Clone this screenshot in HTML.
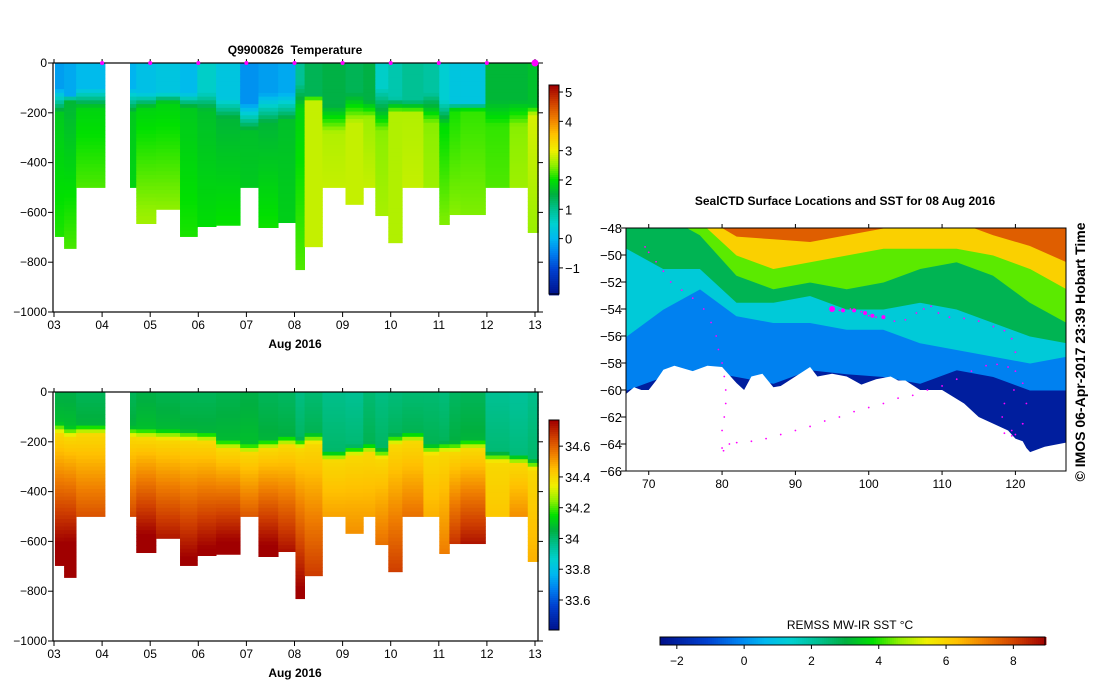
<!DOCTYPE html>
<html><head><meta charset="utf-8"><style>
html,body{margin:0;padding:0;background:#fff;}
svg{display:block;font-family:"Liberation Sans",sans-serif;}
</style></head><body>
<svg id="root" width="1099" height="700" viewBox="0 0 1099 700" xmlns="http://www.w3.org/2000/svg">
<g id="tempPanel"></g>
<g id="salPanel"></g>
<g id="mapPanel"></g>
<text x="295" y="54" text-anchor="middle" font-size="12" font-weight="bold">Q9900826&#160;&#160;Temperature</text>
<text x="845" y="205" text-anchor="middle" font-size="12" font-weight="bold">SealCTD Surface Locations and SST for 08 Aug 2016</text>
<text x="850" y="629" text-anchor="middle" font-size="12">REMSS MW-IR SST °C</text>
<text transform="translate(1085,352) rotate(-90)" text-anchor="middle" font-size="14" font-weight="bold">© IMOS 06-Apr-2017 23:39 Hobart Time</text>
</svg>
<script>
// ---- profile data (day of Aug 2016 at profile start) ----
const profDay = [3.02,3.21,3.46,4.58,4.71,5.12,5.62,5.98,6.37,6.87,7.25,7.66,8.02,8.21,8.58,9.06,9.43,9.68,9.95,10.24,10.68,11.01,11.22,11.45,11.97,12.47,12.85];
const profEnd = 13.07;
const profGapAfter = [2];
const gapEnd = 4.06;
const maxDepth = [697,745,500,500,645,588,697,657,652,500,661,641,830,738,500,568,500,613,722,500,500,649,609,609,500,500,681];
// temperature parameters
const tSurf = [-0.2,-0.1,0.1,0.0,0.2,0.3,0.1,0.6,0.3,-0.3,-0.2,-0.1,1.0,1.4,1.5,1.4,1.5,0.6,0.8,1.0,0.9,0.5,0.3,0.3,1.6,1.6,1.7];
const tZ1 = [100,130,100,100,120,120,120,120,140,160,120,120,80,130,170,120,150,100,140,150,120,150,160,160,150,150,170];
const tZ2 = [200,150,180,200,180,160,180,190,220,270,240,230,180,150,280,240,220,270,200,200,240,250,190,190,250,250,210];
const tMid = [1.8,1.6,1.9,1.8,1.9,1.9,1.8,1.7,1.6,1.7,1.6,1.7,1.9,2.8,2.7,2.8,2.6,2.5,2.7,2.7,2.5,2.0,2.1,2.2,2.2,2.5,2.9];
const t500 = [2.0,2.0,2.3,1.9,2.4,2.4,2.0,1.9,1.9,1.8,1.9,1.8,2.1,2.8,2.8,2.8,2.8,2.6,2.7,2.8,2.6,2.3,2.4,2.4,2.3,2.6,2.7];
// salinity parameters
const sSurf = [34.05,34.05,34.03,34.03,34.05,34.04,34.03,34.03,34.04,34.05,34.03,34.02,33.98,34.0,33.97,33.96,34.0,33.98,33.99,34.0,34.0,33.99,34.02,34.03,33.96,33.95,33.97];
const sHalo = [125,140,130,140,145,150,155,160,190,205,190,175,185,165,235,215,205,225,170,160,210,200,200,190,240,250,270];
const s500 = [34.68,34.68,34.63,34.65,34.7,34.66,34.64,34.66,34.67,34.62,34.66,34.63,34.58,34.55,34.5,34.5,34.5,34.52,34.55,34.58,34.48,34.5,34.6,34.64,34.44,34.53,34.44];
// axis ticks
const dayTicks = ["03","04","05","06","07","08","09","10","11","12","13"];
const depthTicks = [0,-200,-400,-600,-800,-1000];
const tempCbTicks = [5,4,3,2,1,0,-1];
const salCbTicks = [34.6,34.4,34.2,34,33.8,33.6];
// map data
const mapLons = [67,72,77,82,87,92,97,102,107,112,117,122,127];
const iso7 = [-47,-47,-47,-48.6,-48.8,-49,-48.5,-48,-47.5,-47.5,-48.5,-49.3,-50.5];
const iso5 = [-47,-47,-47.5,-50,-51,-50.5,-50,-49.5,-49.5,-49.5,-50,-51,-52.5];
const iso35 = [-47,-47,-48.5,-51.5,-52.5,-52,-52.5,-52,-51,-50.5,-51.5,-53.5,-55];
const iso2 = [-49.5,-51,-51,-53.5,-53.5,-53,-54,-54,-53.5,-54,-55,-56,-56.5];
const iso05 = [-56,-54,-52.5,-54.5,-55,-55,-55.5,-55.5,-56.5,-57,-57.5,-58,-57.5];
const isoM1 = [-60,-59,-58.5,-59,-59.5,-58.5,-58.8,-59,-59.5,-58.5,-59,-60,-60];
const isoVals = [-1.6,-0.2,1.2,2.8,4.3,6.0,7.6];
const iceLon = [66.9,68,69,70,71,72,73.5,76,78,80,82,83,84,85.5,87,88,90,92,93,95,97,99,101,103,104,105,107,110,113,115,117,119,120,121,121.5,122,124,126.9];
const iceLat = [-60.3,-59.8,-60,-60,-59.3,-58.5,-58.2,-58.6,-58.2,-58.3,-59.5,-60,-59,-58.8,-59.8,-59.7,-59,-58.3,-59,-58.8,-59,-59.6,-59.2,-59,-59.3,-59.3,-60,-60,-61,-62,-62.5,-63,-63.6,-63.8,-64.3,-64.6,-64.2,-63.9];
const trackLon = [69.5,70,71,72,73,74.5,76,77.5,78.5,79.2,79.5,80,80.3,80.5,80.5,80.3,80,80,80.2,81,82,84,86,88,90,92,94,96,98,100,102,104,106,108,110,112,114,116,117.5,119,120,121,121.5,121,120,119.5,119.8,118.5,118.2,118.5,119.5,121,95,96,97.5,99,100,101,102,103.5,105,106.5,107.5,108.5,109.5,111,113,115,117,118.5,119.5,120];
const trackLat = [-49.4,-49.8,-50.5,-51.2,-52,-52.6,-53.2,-54,-55,-56,-57,-58,-59,-60,-61,-62,-63,-64.3,-64.5,-64,-63.9,-63.8,-63.6,-63.3,-63,-62.7,-62.3,-62,-61.6,-61.3,-61,-60.6,-60.4,-60,-59.7,-59.2,-58.6,-58.2,-58.1,-58.3,-58.6,-59.5,-61,-62.5,-63.3,-63,-60,-61,-62,-63.2,-63.4,-62.5,-54,-54.1,-54,-54.2,-54.5,-54.6,-54.6,-54.9,-54.8,-54.3,-54,-53.8,-54.3,-54.6,-54.7,-54.9,-55.3,-55.6,-56.2,-57.2];
const bigDotLon = [95,96.5,98,99.5,100.5,102];
const bigDotLat = [-54,-54.1,-54.1,-54.3,-54.5,-54.6];
const sstTicks = [-2,0,2,4,6,8];
const latTicks = [-48,-50,-52,-54,-56,-58,-60,-62,-64,-66];
const lonTicks = [70,80,90,100,110,120];

// ---- colormap ----
const stops=[[0,[0,16,138]],[0.12,[0,64,208]],[0.2,[0,128,240]],[0.27,[0,184,240]],[0.34,[0,208,208]],[0.41,[0,192,144]],[0.48,[0,176,64]],[0.55,[0,224,0]],[0.62,[144,240,0]],[0.69,[240,240,0]],[0.77,[255,192,0]],[0.84,[240,128,0]],[0.92,[208,64,0]],[1,[160,0,0]]];
function cmap(f){f=Math.max(0,Math.min(1,f));for(let i=1;i<stops.length;i++){if(f<=stops[i][0]){const a=stops[i-1],b=stops[i],t=(f-a[0])/(b[0]-a[0]);const c=a[1].map((v,k)=>Math.round(v+(b[1][k]-v)*t));return `rgb(${c[0]},${c[1]},${c[2]})`;}}return 'rgb(160,0,0)';}
const NS="http://www.w3.org/2000/svg";
function mk(tag,attrs,parent){const e=document.createElementNS(NS,tag);for(const k in attrs)e.setAttribute(k,attrs[k]);parent.appendChild(e);return e;}

function tempAt(i,z){if(z<tZ1[i])return tSurf[i];if(z<tZ2[i])return tSurf[i]+(tMid[i]-tSurf[i])*(z-tZ1[i])/(tZ2[i]-tZ1[i]);return tMid[i]+(t500[i]-tMid[i])*(z-tZ2[i])/Math.max(50,500-tZ2[i]);}
function salAt(i,z){const h=sHalo[i];if(z<h)return sSurf[i]+0.04*z/h;if(z<h+40)return sSurf[i]+0.04+(34.4-sSurf[i]-0.04)*(z-h)/40;return 34.4+(s500[i]-34.4)*(z-h-40)/(500-h-40);}

function drawSection(g,y0,y1,valFn,vmin,vmax,cbTicks,cbTop,cbBot,cbName,fmt){
  const xL=53,xR=538;
  const xS=d=>54+(d-3)*48.1;
  const yS=z=>y0+(z/1000)*(y1-y0);
  for(let i=0;i<profDay.length;i++){
    const endDay = profGapAfter.includes(i)?gapEnd:(i+1<profDay.length?profDay[i+1]:profEnd);
    const xa=xS(profDay[i]),xb=xS(endDay);
    for(let z=0;z<maxDepth[i];z+=15){
      const zb=Math.min(z+15,maxDepth[i]);
      const v=valFn(i,z+7);
      const r=mk('rect',{x:xa.toFixed(2),y:yS(z).toFixed(2),width:(xb-xa+0.4).toFixed(2),height:(yS(zb)-yS(z)+0.4).toFixed(2),fill:cmap((v-vmin)/(vmax-vmin))},g);
      
      
    }
  }
  const fr=mk('rect',{x:xL,y:y0,width:xR-xL,height:y1-y0,fill:'none',stroke:'#000','stroke-width':1.2},g);
  
  
  depthTicks.forEach(t=>{const y=yS(-t);
    mk('line',{x1:xL-5,x2:xL,y1:y,y2:y,stroke:'#000'},g);
    mk('line',{x1:xR,x2:xR+5,y1:y,y2:y,stroke:'#000'},g);
    const tx=mk('text',{x:xL-6,y:y+4,'text-anchor':'end','font-size':12},g);tx.textContent=String(t).replace('-','\u2212');
    
    });
  dayTicks.forEach((t,k)=>{const x=xS(3+k);
    mk('line',{x1:x,x2:x,y1:y1,y2:y1+5,stroke:'#000'},g);
    mk('line',{x1:x,x2:x,y1:y0-4,y2:y0,stroke:'#000'},g);
    if(y0<100&&k>0) mk('circle',{cx:x,cy:y0,r:k==10?3.5:2,fill:'#f0f'},g);
    const tx=mk('text',{x:x,y:y1+17,'text-anchor':'middle','font-size':12},g);tx.textContent=t;
    
    });
  const al=mk('text',{x:295,y:y1+36,'text-anchor':'middle','font-size':12,'font-weight':'bold'},g);al.textContent='Aug 2016';
  
  
  const cb=mk('g',{},g);
  
  
  const cbVal=y=>vmax-(y-cbTop)/(cbBot-cbTop)*(vmax-vmin);
  for(let y=cbTop;y<cbBot;y+=2){mk('rect',{x:549,y:y,width:10,height:2.4,fill:cmap((cbVal(y)-vmin)/(vmax-vmin))},cb);}
  mk('rect',{x:549,y:cbTop,width:10,height:cbBot-cbTop,fill:'none',stroke:'#000'},cb);
  cbTicks.forEach(t=>{const y=cbTop+(vmax-t)/(vmax-vmin)*(cbBot-cbTop);
    mk('line',{x1:559,x2:563,y1:y,y2:y,stroke:'#000'},cb);
    const tx=mk('text',{x:565,y:y+5,'font-size':13},cb);tx.textContent=fmt(t);
    
    });
}
drawSection(document.getElementById('tempPanel'),63,312,tempAt,-1.89,5.24,tempCbTicks,85,294,'temperature-colorbar',t=>String(t).replace('-','\u2212'));
drawSection(document.getElementById('salPanel'),392,641,salAt,33.405,34.77,salCbTicks,420,630,'salinity-colorbar',t=>String(t));

// ---- map ----
(function(){
  const g=document.getElementById('mapPanel');
  const X0=626,X1=1066,Y0=228,Y1=471,lonMin=66.9,lonMax=126.9,latMax=-48,latMin=-66;
  const xS=l=>X0+(l-lonMin)/(lonMax-lonMin)*(X1-X0);
  const yS=l=>Y0+(latMax-l)/(latMax-latMin)*(Y1-Y0);
  const sMin=-2.5,sMax=8.94;
  const sc=v=>cmap((v-sMin)/(sMax-sMin));
  const clip=mk('clipPath',{id:'mapclip'},g);
  mk('rect',{x:X0,y:Y0,width:X1-X0,height:Y1-Y0},clip);
  const mg=mk('g',{'clip-path':'url(#mapclip)'},g);
  const base=mk('rect',{x:X0,y:Y0,width:X1-X0,height:Y1-Y0,fill:sc(-2.1)},mg);
  
  
  const isos=[isoM1,iso05,iso2,iso35,iso5,iso7];
  isos.forEach((iso,k)=>{
    let d=`M${X0-5},${Y0-20}`;
    d+=` L${X0-5},${yS(iso[0]).toFixed(1)}`;
    mapLons.forEach((l,j)=>{d+=` L${xS(l).toFixed(1)},${yS(iso[j]).toFixed(1)}`;});
    d+=` L${X1+5},${yS(iso[iso.length-1])} L${X1+5},${Y0-20}Z`;
    const p=mk('path',{d:d,fill:sc(isoVals[k+1]),stroke:sc(isoVals[k+1]),'stroke-linejoin':'round'},mg);
    
    
  });
  let d=`M${X0-5},${Y1+5}`;
  iceLon.forEach((l,j)=>{d+=` L${xS(l).toFixed(1)},${yS(iceLat[j]).toFixed(1)}`;});
  d+=` L${X1+5},${yS(-65)} L${X1+5},${Y1+5}Z`;
  const ice=mk('path',{d:d,fill:'#fff'},mg);
  
  
  trackLon.forEach((l,j)=>{const c=mk('circle',{cx:xS(l),cy:yS(trackLat[j]),r:0.9,fill:'#f0f'},mg);
    
    });
  bigDotLon.forEach((l,j)=>{const c=mk('circle',{cx:xS(l),cy:yS(bigDotLat[j]),r:j==0?3:2,fill:'#f0f'},mg);
    
    });
  mk('rect',{x:X0,y:Y0,width:X1-X0,height:Y1-Y0,fill:'none',stroke:'#000'},g);
  latTicks.forEach(t=>{const y=yS(t);mk('line',{x1:X0-5,x2:X0,y1:y,y2:y,stroke:'#000'},g);
    const tx=mk('text',{x:X0-4,y:y+5,'text-anchor':'end','font-size':13},g);tx.textContent=String(t).replace('-','\u2212');
    
    });
  lonTicks.forEach(t=>{const x=xS(t);mk('line',{x1:x,x2:x,y1:Y1,y2:Y1+4,stroke:'#000'},g);mk('line',{x1:x,x2:x,y1:Y0-4,y2:Y0,stroke:'#000'},g);
    const tx=mk('text',{x:x,y:Y1+17,'text-anchor':'middle','font-size':12},g);tx.textContent=t;
    
    });
  const cb=mk('g',{},g);
  
  
  const cX0=660,cX1=1045;
  for(let x=cX0;x<cX1;x+=2){const v=sMin+(x-cX0)/(cX1-cX0)*(sMax-sMin);mk('rect',{x:x,y:637,width:2.4,height:8,fill:sc(v)},cb);}
  mk('rect',{x:cX0,y:637,width:cX1-cX0,height:8,fill:'none',stroke:'#000'},cb);
  sstTicks.forEach(t=>{const x=cX0+(t-sMin)/(sMax-sMin)*(cX1-cX0);
    mk('line',{x1:x,x2:x,y1:645,y2:649,stroke:'#000'},cb);
    const tx=mk('text',{x:x,y:665,'text-anchor':'middle','font-size':12},cb);tx.textContent=String(t).replace('-','\u2212');
    
    });
})();
</script>
</body></html>
